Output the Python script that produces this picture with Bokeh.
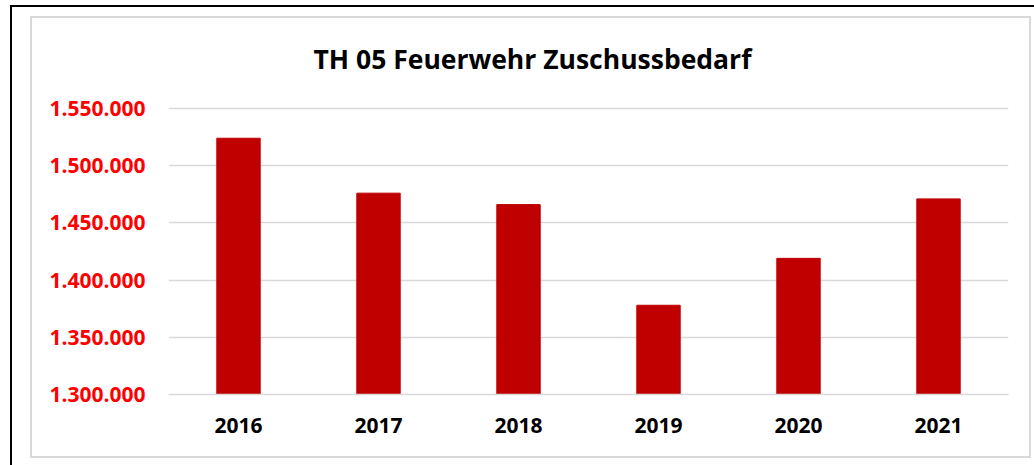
from bokeh.plotting import figure
from bokeh.models import FactorRange, Range1d, FixedTicker, CustomJSTickFormatter, ColumnDataSource
from bokeh.embed import file_html
from bokeh.resources import INLINE

years = ["2016", "2017", "2018", "2019", "2020", "2021"]
values = [1524000, 1476000, 1466000, 1378000, 1419000, 1471000]
y_ticks = [1300000, 1350000, 1400000, 1450000, 1500000, 1550000]
title_text = "TH 05 Feuerwehr Zuschussbedarf"

src = ColumnDataSource(dict(x=years, top=values))

p = figure(width=1034, height=465, x_range=FactorRange(*years),
           y_range=Range1d(y_ticks[0], 1553500),
           output_backend="svg", toolbar_location=None,
           min_border_left=168, min_border_right=26,
           min_border_top=104, min_border_bottom=71)

p.vbar(x="x", top="top", bottom=y_ticks[0], width=0.31, source=src,
       fill_color="#c00000", line_color="#c00000")

p.title.text = title_text
p.title.text_font = "Open Sans"
p.title.text_font_style = "bold"
p.title.text_font_size = "26.5px"
p.title.align = "left"
p.title.offset = 145
p.title.text_color = "black"
p.title.standoff = 55

p.outline_line_color = None
p.background_fill_color = "white"
p.border_fill_color = None

# chart-area border (gray) and outer sheet border (black) drawn as page background
p.styles = {
    "background-color": "white",
    "background-image": ", ".join(["linear-gradient(#000,#000)"] * 2 + ["linear-gradient(#d9d9d9,#d9d9d9)"] * 4),
    "background-repeat": "no-repeat",
    "background-position": "10px 5px, 10px 5px, 30px 16px, 30px 456px, 30px 16px, 1029px 16px",
    "background-size": "1030px 2px, 2px 470px, 1001px 2px, 1001px 2px, 2px 442px, 2px 442px",
}

p.xgrid.grid_line_color = None
p.ygrid.grid_line_color = "#d9d9d9"
p.ygrid.grid_line_width = 1.5
p.yaxis.ticker = FixedTicker(ticks=y_ticks)
p.yaxis.formatter = CustomJSTickFormatter(code="return tick.toFixed(0).replace(/\\B(?=(\\d{3})+(?!\\d))/g, '.');")
p.yaxis.axis_line_color = None
p.yaxis.major_tick_line_color = None
p.yaxis.minor_tick_line_color = None
p.yaxis.major_label_text_color = "#ff0000"
p.yaxis.major_label_text_font = "Open Sans"
p.yaxis.major_label_text_font_style = "bold"
p.yaxis.major_label_text_font_size = "21px"
p.yaxis.major_label_standoff = 17

p.xaxis.axis_line_color = "#d9d9d9"
p.xaxis.axis_line_width = 1.5
p.xaxis.major_tick_line_color = None
p.xaxis.minor_tick_line_color = None
p.xaxis.major_label_text_color = "black"
p.xaxis.major_label_text_font = "Open Sans"
p.xaxis.major_label_text_font_style = "bold"
p.xaxis.major_label_text_font_size = "21px"
p.xaxis.major_label_standoff = 17

open("out.html", "w").write(file_html(p, INLINE))
